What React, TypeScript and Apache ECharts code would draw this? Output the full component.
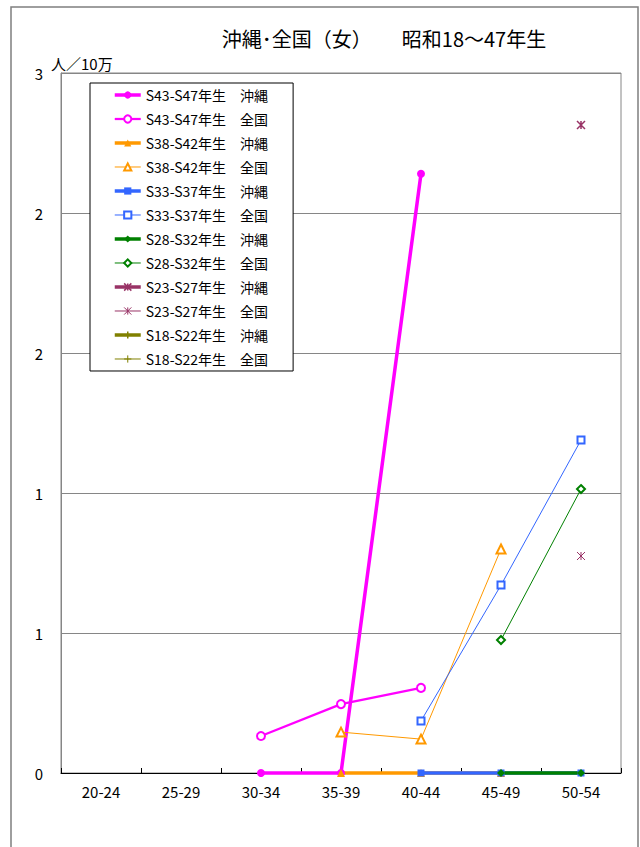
import React, { useEffect, useRef } from "react";
import * as echarts from "echarts";

const categories = ["20-24", "25-29", "30-34", "35-39", "40-44", "45-49", "50-54"];

const s43Okinawa = [null, null, 0, 0, 2.14, null, null];
const s43Zenkoku = [null, null, 0.132, 0.246, 0.304, null, null];
const s38Okinawa = [null, null, null, 0, 0, 0, null];
const s38Zenkoku = [null, null, null, 0.146, 0.121, 0.8, null];
const s33Okinawa = [null, null, null, null, 0, 0, 0];
const s33Zenkoku = [null, null, null, null, 0.186, 0.671, 1.189];
const s28Okinawa = [null, null, null, null, null, 0, 0];
const s28Zenkoku = [null, null, null, null, null, 0.475, 1.014];
const s23Okinawa = [null, null, null, null, null, null, 2.314];
const s23Zenkoku = [null, null, null, null, null, null, 0.775];
const s18Okinawa = [null, null, null, null, null, null, null];
const s18Zenkoku = [null, null, null, null, null, null, null];

const seriesNames = [
  "S43-S47年生　沖縄",
  "S43-S47年生　全国",
  "S38-S42年生　沖縄",
  "S38-S42年生　全国",
  "S33-S37年生　沖縄",
  "S33-S37年生　全国",
  "S28-S32年生　沖縄",
  "S28-S32年生　全国",
  "S23-S27年生　沖縄",
  "S23-S27年生　全国",
  "S18-S22年生　沖縄",
  "S18-S22年生　全国",
];

const titleText = "沖縄･全国（女）　　昭和18～47年生";
const unitText = "人／10万";

const FONT = "'Noto Sans CJK JP', 'Noto Sans', sans-serif";

const ASTER = "path://M0,0L10,10M10,0L0,10M5,0L5,10";
const PLUS = "path://M5,0L5,10M0,5L10,5";

export default function App() {
  const ref = useRef<HTMLDivElement>(null);
  useEffect(() => {
    if (!ref.current) return;
    const chart = echarts.init(ref.current, null, { renderer: "svg" });

    const mk = (
      name: string,
      data: (number | null)[],
      color: string,
      lineWidth: number,
      symbol: string,
      symbolSize: number,
      stroked: boolean,
      borderWidth: number
    ) => ({
      name,
      type: "line",
      data,
      clip: false,
      connectNulls: false,
      symbol,
      symbolSize,
      showSymbol: true,
      lineStyle: { color, width: lineWidth },
      itemStyle: stroked
        ? { color, borderColor: color, borderWidth }
        : { color, borderWidth: 0 },
      emphasis: { disabled: true },
    });

    const MAG = "#FF00FF";
    const ORA = "#FF9900";
    const BLU = "#3366FF";
    const GRN = "#008000";
    const DMG = "#993366";
    const OLV = "#808000";

    const series = [
      mk(seriesNames[0], s43Okinawa, MAG, 3.5, "circle", 8, false, 0),
      mk(seriesNames[1], s43Zenkoku, MAG, 2.25, "emptyCircle", 8, true, 1),
      mk(seriesNames[2], s38Okinawa, ORA, 3.5, "triangle", 8, false, 0),
      mk(seriesNames[3], s38Zenkoku, ORA, 1, "emptyTriangle", 9, true, 1),
      mk(seriesNames[4], s33Okinawa, BLU, 3.5, "rect", 7, false, 0),
      mk(seriesNames[5], s33Zenkoku, BLU, 1, "emptyRect", 7, true, 1),
      mk(seriesNames[6], s28Okinawa, GRN, 3.5, "diamond", 8, false, 0),
      mk(seriesNames[7], s28Zenkoku, GRN, 1, "emptyDiamond", 8, true, 1),
      mk(seriesNames[8], s23Okinawa, DMG, 3.5, ASTER, 8, true, 1.5),
      mk(seriesNames[9], s23Zenkoku, DMG, 1, ASTER, 8, true, 1),
      mk(seriesNames[10], s18Okinawa, OLV, 3.5, PLUS, 8, true, 1.5),
      mk(seriesNames[11], s18Zenkoku, OLV, 1, PLUS, 8, true, 1),
    ];

    chart.setOption({
      animation: false,
      textStyle: { fontFamily: FONT },
      grid: {
        left: 61,
        right: 19,
        top: 73,
        bottom: 74,
        show: true,
        borderColor: "#868686",
        borderWidth: 1,
        containLabel: false,
      },
      legend: {
        orient: "vertical",
        left: 90,
        top: 83,
        padding: [5, 25, 5, 23],
        itemWidth: 26,
        itemHeight: 9,
        itemGap: 10,
        backgroundColor: "#ffffff",
        borderColor: "#000000",
        borderWidth: 1,
        borderRadius: 0,
        lineStyle: { width: "inherit" },
        itemStyle: { borderWidth: "inherit" },
        textStyle: { fontSize: 14, color: "#000", fontFamily: FONT },
        data: seriesNames,
        selectedMode: false,
      },
      xAxis: {
        type: "category",
        data: categories,
        boundaryGap: true,
        axisLine: { show: true, lineStyle: { color: "#000", width: 1 } },
        axisTick: {
          show: true,
          inside: true,
          length: 5,
          alignWithLabel: false,
          lineStyle: { color: "#000" },
        },
        axisLabel: { fontSize: 15, color: "#000", margin: 11, fontFamily: FONT },
        splitLine: { show: false },
      },
      yAxis: {
        type: "value",
        min: 0,
        max: 2.5,
        interval: 0.5,
        axisLine: { show: true, lineStyle: { color: "#868686", width: 1 } },
        axisTick: { show: false },
        axisLabel: {
          fontSize: 15,
          color: "#000",
          margin: 18,
          fontFamily: FONT,
          formatter: (v: number) => String(Math.round(v)),
        },
        splitLine: { show: true, lineStyle: { color: "#868686", width: 1 } },
      },
      graphic: [
        {
          type: "rect",
          shape: { x: 11, y: 7, width: 627, height: 860 },
          style: { fill: "none", stroke: "#7f7f7f", lineWidth: 1.5 },
          silent: true,
          z: -10,
        },
        {
          type: "text",
          x: 384,
          y: 38,
          style: {
            text: titleText,
            fontSize: 20,
            fontFamily: FONT,
            fill: "#000",
            textAlign: "center",
            textVerticalAlign: "middle",
          },
        },
        {
          type: "text",
          x: 51,
          y: 63,
          style: {
            text: unitText,
            fontSize: 15,
            fontFamily: FONT,
            fill: "#000",
            textAlign: "left",
            textVerticalAlign: "middle",
          },
        },
      ],
      series,
    });

    return () => chart.dispose();
  }, []);

  return <div ref={ref} style={{ width: 640, height: 847, position: "absolute", left: 0, top: 0 }} />;
}
